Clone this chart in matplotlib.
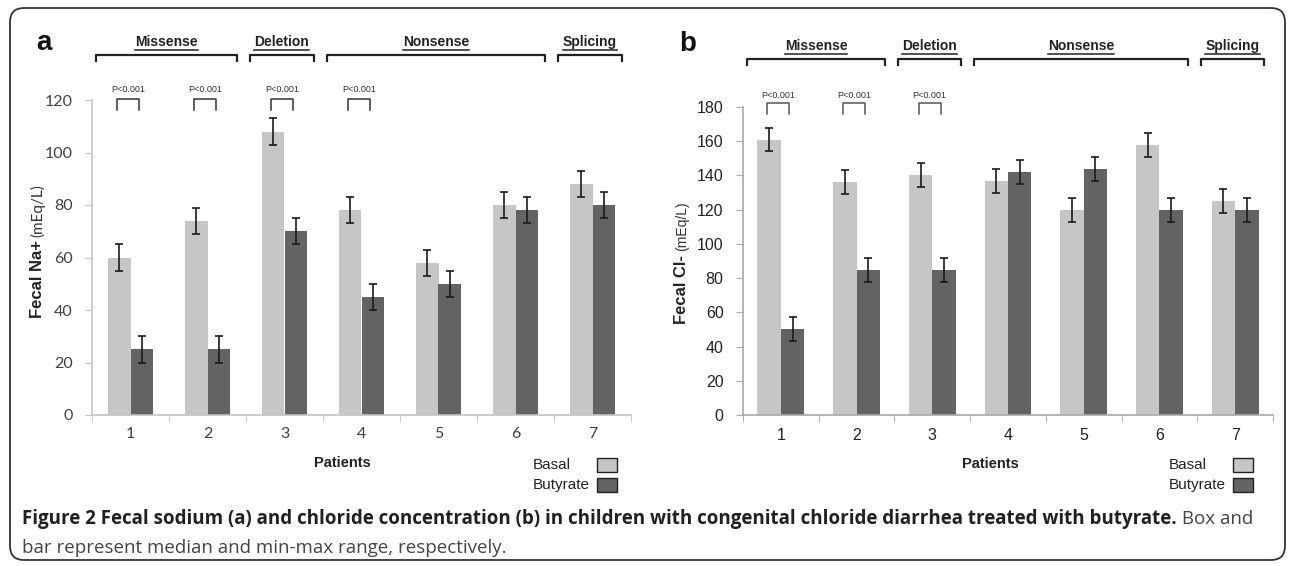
import matplotlib
matplotlib.use("Agg")
import matplotlib.pyplot as plt
import matplotlib.transforms as mtransforms
from matplotlib.patches import Rectangle, FancyBboxPatch
import numpy as np

# datos
patients = ["1", "2", "3", "4", "5", "6", "7"]
na_basal = [60, 74, 108, 78, 58, 80, 88]
na_butyrate = [25, 25, 70, 45, 50, 78, 80]
na_err_basal = [5, 5, 5, 5, 5, 5, 5]
na_err_butyrate = [5, 5, 5, 5, 5, 5, 5]
cl_basal = [161, 136, 140, 137, 120, 158, 125]
cl_butyrate = [50, 85, 85, 142, 144, 120, 120]
cl_err_basal = [7, 7, 7, 7, 7, 7, 7]
cl_err_butyrate = [7, 7, 7, 7, 7, 7, 7]
mutations = ["Missense", "Deletion", "Nonsense", "Splicing"]
mutation_first = [0, 2, 3, 6]
mutation_last = [1, 2, 5, 6]
na_signif = [0, 1, 2, 3]
cl_signif = [0, 1, 2]
p_label = "P<0.001"
series_names = ["Basal", "Butyrate"]

W, H = 1290, 566
C_BASAL = "#c5c6c8"
C_BUT = "#636365"
ARIAL = "Liberation Sans"

fig = plt.figure(figsize=(W / 100, H / 100), dpi=100)


def fx(x):
    return x / W


def fy(y):
    return 1 - y / H


def panel(rect, basal, but, eb, eu, ymax, width, spine_c, tick_font, tick_c, tsize):
    ax = fig.add_axes(rect)
    x = np.arange(len(patients))
    ek = dict(ecolor="#1a1a1a", elinewidth=1.2, capsize=3, capthick=1.2)
    ax.bar(x - width / 2, basal, width, color=C_BASAL, yerr=eb, error_kw=ek, zorder=2)
    ax.bar(x + width / 2, but, width, color=C_BUT, yerr=eu, error_kw=ek, zorder=2)
    ax.set_xlim(-0.5, len(patients) - 0.5)
    ax.set_ylim(0, ymax)
    for s in ["top", "right"]:
        ax.spines[s].set_visible(False)
    for s in ["left", "bottom"]:
        ax.spines[s].set_color(spine_c)
        ax.spines[s].set_linewidth(1.2)
    ax.set_yticks(range(0, ymax + 1, 20))
    ax.set_xticks(x)
    ax.set_xticklabels(patients)
    ax.set_xticks(np.arange(-0.5, len(patients), 1), minor=True)
    ax.tick_params(axis="y", direction="out", length=5, color=spine_c, pad=9,
                   labelsize=tsize, labelcolor=tick_c)
    ax.tick_params(axis="x", which="major", length=0, pad=9, labelsize=tsize,
                   labelcolor=tick_c)
    ax.tick_params(axis="x", which="minor", length=5, color=spine_c)
    for t in ax.get_xticklabels() + ax.get_yticklabels():
        t.set_fontfamily(tick_font)
    return ax


ax_a = panel([fx(92), fy(415), 539 / W, 315 / H], na_basal, na_butyrate,
             na_err_basal, na_err_butyrate, 120, 0.29, "#c4c4c4", "Lato", "#404040", 11.5)
ax_b = panel([fx(743), fy(415), 530 / W, 308 / H], cl_basal, cl_butyrate,
             cl_err_basal, cl_err_butyrate, 180, 0.31, "#a8a8a8", ARIAL, "#222222", 11.5)

renderer = fig.canvas.get_renderer()


def headers(ax, text_y, line_y):
    tr = mtransforms.blended_transform_factory(ax.transData, fig.transFigure)
    for name, a, b in zip(mutations, mutation_first, mutation_last):
        left, right = a - 0.45, b + 0.38
        ax.plot([left, left, right, right], [fy(line_y + 6), fy(line_y), fy(line_y), fy(line_y + 6)],
                transform=tr, color="#222222", lw=1.6, clip_on=False)
        t = ax.text((left + right) / 2, fy(text_y), name, transform=tr, ha="center",
                    va="center", fontsize=10, fontweight="bold", family=ARIAL, color="#222222")
        bb = t.get_window_extent(renderer)
        fig.add_artist(plt.Line2D([bb.x0 / W, bb.x1 / W], [(bb.y0 - 1) / H] * 2,
                                  color="#222222", lw=1.1))


def pvalues(ax, idx, top, bottom, text_y, col):
    tr = mtransforms.blended_transform_factory(ax.transData, fig.transFigure)
    for i in idx:
        ax.plot([i - 0.18, i - 0.18, i + 0.11, i + 0.11],
                [fy(bottom), fy(top), fy(top), fy(bottom)], transform=tr,
                color=col, lw=1.1, clip_on=False)
        ax.text(i - 0.035, fy(text_y), p_label, transform=tr, ha="center", va="center",
                fontsize=6.5, family=ARIAL, color="#333333")


headers(ax_a, 42, 55)
headers(ax_b, 46, 59)
pvalues(ax_a, na_signif, 99, 110, 90, "#333333")
pvalues(ax_b, cl_signif, 103, 114, 95, "#555555")

# letras de panel
fig.text(fx(44), fy(43), "a", fontsize=20, fontweight="bold", family=ARIAL,
         ha="center", va="center", color="#111111")
fig.text(fx(688), fy(44), "b", fontsize=20, fontweight="bold", family=ARIAL,
         ha="center", va="center", color="#111111")

# etiquetas de ejes
fig.text(fx(38), fy(240), "Fecal Na+", rotation=90, ha="center", va="top",
         fontsize=12, fontweight="bold", family=ARIAL, color="#222222")
fig.text(fx(38), fy(237), "(mEq/L)", rotation=90, ha="center", va="bottom",
         fontsize=11, family="Lato", color="#333333")
fig.text(fx(682), fy(255), "Fecal Cl-", rotation=90, ha="center", va="top",
         fontsize=12, fontweight="bold", family=ARIAL, color="#222222")
fig.text(fx(682), fy(251), "(mEq/L)", rotation=90, ha="center", va="bottom",
         fontsize=10, family=ARIAL, color="#333333")
fig.text(fx(342), fy(463), "Patients", ha="center", va="center", fontsize=10.5,
         fontweight="bold", family=ARIAL, color="#222222")
fig.text(fx(990), fy(464), "Patients", ha="center", va="center", fontsize=10.5,
         fontweight="bold", family=ARIAL, color="#222222")

# leyendas
for tx, bx in [(533, 597), (1169, 1233)]:
    for k, (name, col) in enumerate(zip(series_names, [C_BASAL, C_BUT])):
        yc = 465 + k * 20
        fig.text(fx(tx), fy(yc), name, ha="left", va="center", fontsize=11,
                 family=ARIAL, color="#222222")
        fig.add_artist(Rectangle((fx(bx), fy(yc + 7)), 20 / W, 14 / H, facecolor=col,
                                 edgecolor="#222222", lw=1.0, transform=fig.transFigure))

# leyenda de la figura
bold_part = ("Figure 2 Fecal sodium (a) and chloride concentration (b) in children with "
             "congenital chloride diarrhea treated with butyrate.")
normal_part = " Box and"
line2 = "bar represent median and min-max range, respectively."
cap_font = "Open Sans"
t1 = fig.text(fx(22), fy(519), bold_part, ha="left", va="center", fontsize=11,
              fontweight="bold", family=cap_font, color="#231f20")
t2 = fig.text(0, fy(519), normal_part, ha="left", va="center", fontsize=11,
              family=cap_font, color="#444444")
w1 = t1.get_window_extent(renderer).width
w2 = t2.get_window_extent(renderer).width
size = 11 * (1253 - 22) / (w1 + w2)
t1.set_fontsize(size)
t2.set_fontsize(size)
w1 = t1.get_window_extent(renderer).width
t2.set_x(fx(22) + w1 / W)
fig.text(fx(22), fy(548), line2, ha="left", va="center", fontsize=size,
         family=cap_font, color="#444444")

# marco redondeado
frame = FancyBboxPatch((10, H - 560), 1275, 552, boxstyle="round,pad=0,rounding_size=14",
                       transform=mtransforms.IdentityTransform(), fill=False,
                       edgecolor="#333333", lw=1.3)
fig.add_artist(frame)

fig.savefig("out.png", dpi=100)
